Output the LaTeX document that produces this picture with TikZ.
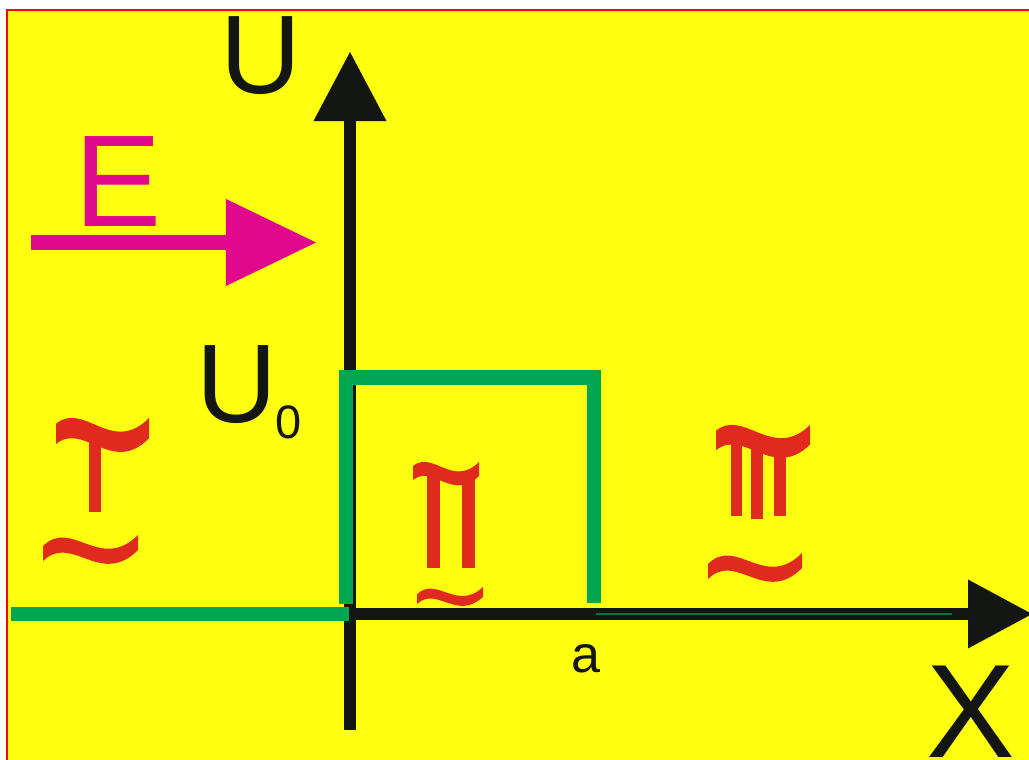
\documentclass[tikz,border=0pt]{standalone}
\usepackage{fontspec}
\setmainfont{Liberation Sans}
\usetikzlibrary{arrows.meta}
\definecolor{bgyellow}{RGB}{255,255,16}
\definecolor{frame}{RGB}{255,0,0}
\definecolor{axblack}{RGB}{20,22,20}
\definecolor{potgreen}{RGB}{0,166,81}
\definecolor{emag}{RGB}{224,8,140}
\definecolor{symred}{RGB}{224,42,30}
\newcommand{\rwave}[5]{%
  \begin{scope}[shift={(#1,#2)},xscale=#3,yscale=-#4]
    \fill[symred] (0,0.1+#5) .. controls (0.3,1.6) and (0.6,-0.3) .. (1,1)
      -- (1,1-#5) .. controls (0.6,-0.3-#5) and (0.3,1.6-#5) .. (0,0.1) -- cycle;
  \end{scope}}
\tikzset{
  axisline/.style={draw=axblack, line width=0.3cm},
  potline/.style={draw=potgreen, line width=0.35cm, line join=miter},
  lbl/.style={inner sep=0pt, anchor=base west},
}
\begin{document}
\begin{tikzpicture}[x=0.025cm,y=-0.025cm]
\useasboundingbox (0,0) rectangle (1029,760);
\clip (0,0) rectangle (1029,760);
\fill[white] (0,0) rectangle (1029,760);
\draw[frame, line width=0.05cm, fill=bgyellow] (7,10.5) rectangle (1045,775);

% axes
\coordinate (origin) at (350,614);
\coordinate (ybot) at (350,730);
\coordinate (ytip) at (350,52);
\coordinate (xstart) at (344,614);
\coordinate (xtip) at (1032,614);
\draw[axisline, -{Triangle[length=1.725cm, width=1.825cm, line width=0pt]}] (ybot) -- (ytip);
\draw[axisline, -{Triangle[length=1.6cm, width=1.725cm, line width=0pt]}] (xstart) -- (xtip);

% potential
\coordinate (g0) at (11,614);
\coordinate (g1) at (349,614);
\coordinate (g2) at (346,604);
\coordinate (g3) at (594,377.5);
\coordinate (g4) at (594,603);
\draw[potline] (g0) -- (g1);
\draw[potline] (g2) |- (g3) -- (g4);
\coordinate (t0) at (596,614);
\coordinate (t1) at (952,614);
\draw[draw=potgreen!70!black, line width=0.04cm] (t0) -- (t1);

% E arrow
\coordinate (e0) at (31,242.5);
\coordinate (e1) at (316,242.5);
\draw[draw=emag, line width=0.375cm, -{Triangle[length=2.25cm, width=2.175cm, line width=0pt]}] (e0) -- (e1);
\node[lbl, text=emag, font=\fontsize{93}{93}\selectfont] (elabel) at (74,227) {E};

% labels
\node[lbl, text=axblack, font=\fontsize{79.5}{80}\selectfont] (ulabel) at (220,94) {U};
\node[lbl, text=axblack, font=\fontsize{79.5}{80}\selectfont] (u0) at (196,422) {U};
\node[lbl, text=axblack, font=\fontsize{33.4}{34}\selectfont] (u0sub) at (275,438) {0};
\node[lbl, text=axblack, font=\fontsize{37}{38}\selectfont] (alabel) at (571,672) {a};
\node[lbl, text=axblack, font=\fontsize{94.6}{95}\selectfont] (xlabel) at (926,757) {X};

% region I
\fill[symred] (89,432) rectangle (101,512);
\rwave{56}{447}{93}{29}{0.7}
\rwave{43}{564}{95}{29}{0.52}
% region II
\fill[symred] (427,474) rectangle (440,568);
\fill[symred] (462,474) rectangle (475,568);
\rwave{413}{482}{66}{20}{0.7}
\rwave{417}{606}{66}{19}{0.52}
% region III
\fill[symred] (731,440) rectangle (742,516);
\fill[symred] (751,440) rectangle (763,519);
\fill[symred] (774,440) rectangle (786,516);
\rwave{716}{453}{94}{28}{0.7}
\rwave{708}{582}{94}{29}{0.52}
\end{tikzpicture}
\end{document}
